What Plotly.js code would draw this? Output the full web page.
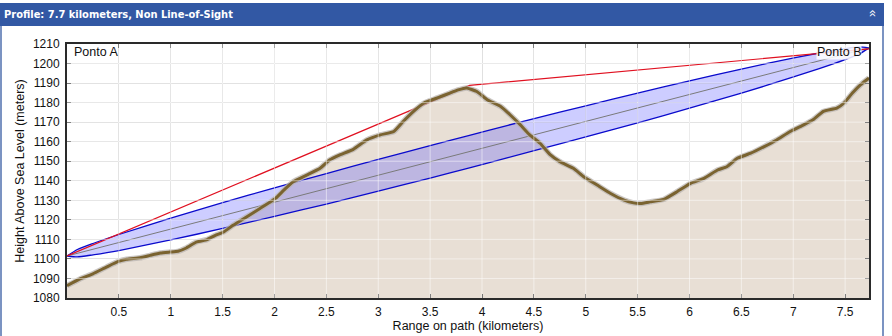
<!DOCTYPE html>
<html>
<head>
<meta charset="utf-8">
<script src="https://cdn.plot.ly/plotly-3.0.1.min.js"></script>
<style>
  html, body { margin: 0; padding: 0; background: #ffffff; }
  #chart { width: 892px; height: 336px; }
</style>
</head>
<body>
<div id="chart"></div>
<script>
// ---- Data ----
const terrainKm = [0, 0.13, 0.25, 0.38, 0.495, 0.575, 0.705, 0.80, 0.90, 0.99, 1.07, 1.15, 1.25, 1.35, 1.43, 1.51, 1.60, 1.73, 1.86, 2.01, 2.09, 2.18, 2.31, 2.44, 2.53, 2.63, 2.76, 2.89, 3.02, 3.15, 3.24, 3.34, 3.44, 3.57, 3.69, 3.77, 3.85, 3.95, 4.05, 4.18, 4.27, 4.37, 4.46, 4.56, 4.66, 4.75, 4.88, 4.98, 5.11, 5.24, 5.37, 5.46, 5.53, 5.62, 5.75, 5.88, 6.01, 6.14, 6.27, 6.36, 6.46, 6.59, 6.72, 6.84, 6.97, 7.10, 7.19, 7.29, 7.42, 7.49, 7.57, 7.65, 7.73];
const terrainM  = [1086.3, 1089.9, 1092.4, 1095.8, 1098.7, 1099.8, 1100.6, 1101.8, 1103.0, 1103.5, 1103.9, 1105.6, 1108.7, 1109.9, 1112.1, 1113.8, 1117.2, 1121.5, 1125.8, 1131.0, 1135.2, 1139.5, 1142.9, 1146.4, 1150.6, 1153.2, 1156.1, 1160.9, 1163.5, 1165.2, 1170.3, 1175.5, 1179.8, 1182.4, 1184.9, 1186.5, 1187.5, 1185.7, 1181.5, 1178.0, 1173.8, 1168.6, 1163.5, 1159.2, 1153.2, 1149.8, 1146.4, 1142.1, 1137.8, 1133.5, 1130.1, 1128.7, 1128.4, 1129.2, 1130.4, 1134.4, 1138.7, 1141.2, 1145.5, 1147.2, 1151.5, 1154.1, 1157.5, 1160.9, 1165.2, 1168.6, 1171.2, 1175.5, 1177.2, 1179.8, 1184.9, 1189.2, 1192.6];

const fresnelKm    = [0, 0.1, 0.25, 0.5, 1, 1.5, 2, 2.5, 3, 3.5, 3.87, 4.25, 4.75, 5.25, 5.75, 6.25, 6.75, 7.25, 7.5, 7.63, 7.73];
const fresnelUpper = [1101.5, 1104.8, 1107.9, 1112.5, 1120.9, 1128.8, 1136.4, 1143.7, 1150.9, 1158.0, 1163.1, 1168.4, 1175.1, 1181.6, 1188.0, 1194.2, 1200.1, 1205.4, 1207.6, 1208.5, 1208.0];
const fresnelLower = [1101.5, 1101.0, 1102.1, 1104.3, 1109.7, 1115.6, 1121.8, 1128.1, 1134.7, 1141.4, 1146.5, 1151.8, 1158.9, 1166.0, 1173.4, 1181.0, 1188.9, 1197.4, 1202.0, 1204.7, 1208.0];

const losKm = [0, 7.73];
const losM  = [1101.5, 1208.0];

const blockedKm = [0, 3.88, 7.73];
const blockedM  = [1101.5, 1188.8, 1207.5];

const xTickVals = [0.5, 1, 1.5, 2, 2.5, 3, 3.5, 4, 4.5, 5, 5.5, 6, 6.5, 7, 7.5];
const xTickText = ['0.5', '1', '1.5', '2', '2.5', '3', '3.5', '4', '4.5', '5', '5.5', '6', '6.5', '7', '7.5'];
const yTickVals = [1080, 1090, 1100, 1110, 1120, 1130, 1140, 1150, 1160, 1170, 1180, 1190, 1200, 1210];

const headerText = 'Profile: 7.7 kilometers, Non Line-of-Sight';
const pointA = 'Ponto A';
const pointB = 'Ponto B';
const xTitle = 'Range on path (kilometers)';
const yTitle = 'Height Above Sea Level (meters)';

// ---- Traces ----
const FONT = '"Liberation Sans", Arial, Helvetica, sans-serif';
const traces = [
  { x: terrainKm, y: terrainM, type: 'scatter', mode: 'lines', fill: 'tozeroy',
    fillcolor: 'rgb(232,223,213)', line: { width: 0, color: 'rgba(0,0,0,0)' }, hoverinfo: 'skip' },
  { x: fresnelKm, y: fresnelLower, type: 'scatter', mode: 'lines',
    line: { color: '#0a0acc', width: 1.3, shape: 'spline', smoothing: 0.6 } },
  { x: fresnelKm, y: fresnelUpper, type: 'scatter', mode: 'lines', fill: 'tonexty',
    fillcolor: 'rgba(90,90,255,0.30)',
    line: { color: '#0a0acc', width: 1.3, shape: 'spline', smoothing: 0.6 } },
  { x: losKm, y: losM, type: 'scatter', mode: 'lines', line: { color: '#7a7a7a', width: 1 } },
  { x: blockedKm, y: blockedM, type: 'scatter', mode: 'lines', line: { color: '#e01020', width: 1.2 } },
  { x: terrainKm, y: terrainM, type: 'scatter', mode: 'lines',
    line: { color: 'rgba(185,180,176,0.75)', width: 5.5, shape: 'spline', smoothing: 0.4 } },
  { x: terrainKm, y: terrainM, type: 'scatter', mode: 'lines',
    line: { color: '#7a6330', width: 3, shape: 'spline', smoothing: 0.4 } }
];

// ---- Layout geometry ----
const W = 892, H = 336, L = 67, R = 23, T = 44, B = 38;
const pw = W - L - R, ph = H - T - B;
const px2x = p => (p - L) / pw;
const py2y = p => (H - B - p) / ph;

const shapes = [];
// header bar
shapes.push({ type: 'rect', xref: 'paper', yref: 'paper', layer: 'below',
  x0: px2x(0), x1: px2x(884), y0: py2y(26), y1: py2y(3),
  fillcolor: '#3258a4', line: { width: 0 } });
// panel borders
shapes.push({ type: 'line', xref: 'paper', yref: 'paper', layer: 'below',
  x0: px2x(1), x1: px2x(1), y0: py2y(26), y1: py2y(336), line: { color: '#4f6fae', width: 1.5 } });
shapes.push({ type: 'line', xref: 'paper', yref: 'paper', layer: 'below',
  x0: px2x(883), x1: px2x(883), y0: py2y(26), y1: py2y(336), line: { color: '#4f6fae', width: 1.5 } });
// light grid overlay (grid appears light on top of the filled terrain)
xTickVals.forEach(v => shapes.push({ type: 'line', xref: 'x', yref: 'paper', layer: 'above',
  x0: v, x1: v, y0: 0, y1: 1, line: { color: 'rgba(255,255,255,0.5)', width: 1 } }));
yTickVals.slice(1, -1).forEach(v => shapes.push({ type: 'line', xref: 'paper', yref: 'y', layer: 'above',
  x0: 0, x1: 1, y0: v, y1: v, line: { color: 'rgba(255,255,255,0.5)', width: 1 } }));

const layout = {
  width: W, height: H,
  margin: { l: L, r: R, t: T, b: B, pad: 0 },
  paper_bgcolor: '#ffffff', plot_bgcolor: '#ffffff',
  showlegend: false,
  font: { family: FONT, size: 12, color: '#111' },
  title: {
    text: '<b>' + headerText + '</b>',
    font: { family: '"Liberation Sans Narrow", "DejaVu Sans Condensed", "Liberation Sans", sans-serif', size: 11, color: '#ffffff' },
    x: 4 / W, xanchor: 'left', xref: 'container',
    y: 1 - 14.5 / H, yanchor: 'middle', yref: 'container'
  },
  xaxis: {
    range: [0, 7.73], tickvals: xTickVals, ticktext: xTickText,
    showgrid: true, gridcolor: '#d6d6d6', gridwidth: 1, zeroline: false,
    showline: true, linecolor: '#2a2a2a', linewidth: 2, mirror: 'ticks',
    ticks: 'inside', ticklen: 4, tickcolor: '#444', tickfont: { size: 12, family: FONT, color: '#111' },
    ticklabelstandoff: 2,
    title: { text: xTitle, font: { size: 12.5, family: FONT, color: '#111' }, standoff: 3 }
  },
  yaxis: {
    range: [1080, 1210], tickvals: yTickVals,
    showgrid: true, gridcolor: '#d6d6d6', gridwidth: 1, zeroline: false,
    showline: true, linecolor: '#2a2a2a', linewidth: 2, mirror: 'ticks',
    ticks: 'inside', ticklen: 4, tickcolor: '#444', tickfont: { size: 12, family: FONT, color: '#111' },
    ticklabelstandoff: 3,
    title: { text: yTitle, font: { size: 12.5, family: FONT, color: '#111' }, standoff: 6 }
  },
  shapes: shapes,
  annotations: [
    { text: pointA, xref: 'paper', yref: 'paper', x: px2x(72), y: py2y(52),
      xanchor: 'left', yanchor: 'middle', showarrow: false, font: { size: 12.5, family: FONT, color: '#111' } },
    { text: pointB, xref: 'paper', yref: 'paper', x: px2x(862), y: py2y(52),
      xanchor: 'right', yanchor: 'middle', showarrow: false, bgcolor: 'rgba(255,255,255,0.85)', borderpad: 0,
      font: { size: 12.5, family: FONT, color: '#111' } },
    { text: '»', xref: 'paper', yref: 'paper', x: px2x(872), y: py2y(14), textangle: -90,
      xanchor: 'center', yanchor: 'middle', showarrow: false, font: { size: 13, family: FONT, color: '#ffffff' } }
  ]
};

Plotly.newPlot('chart', traces, layout, { staticPlot: true, displayModeBar: false });
</script>
</body>
</html>
